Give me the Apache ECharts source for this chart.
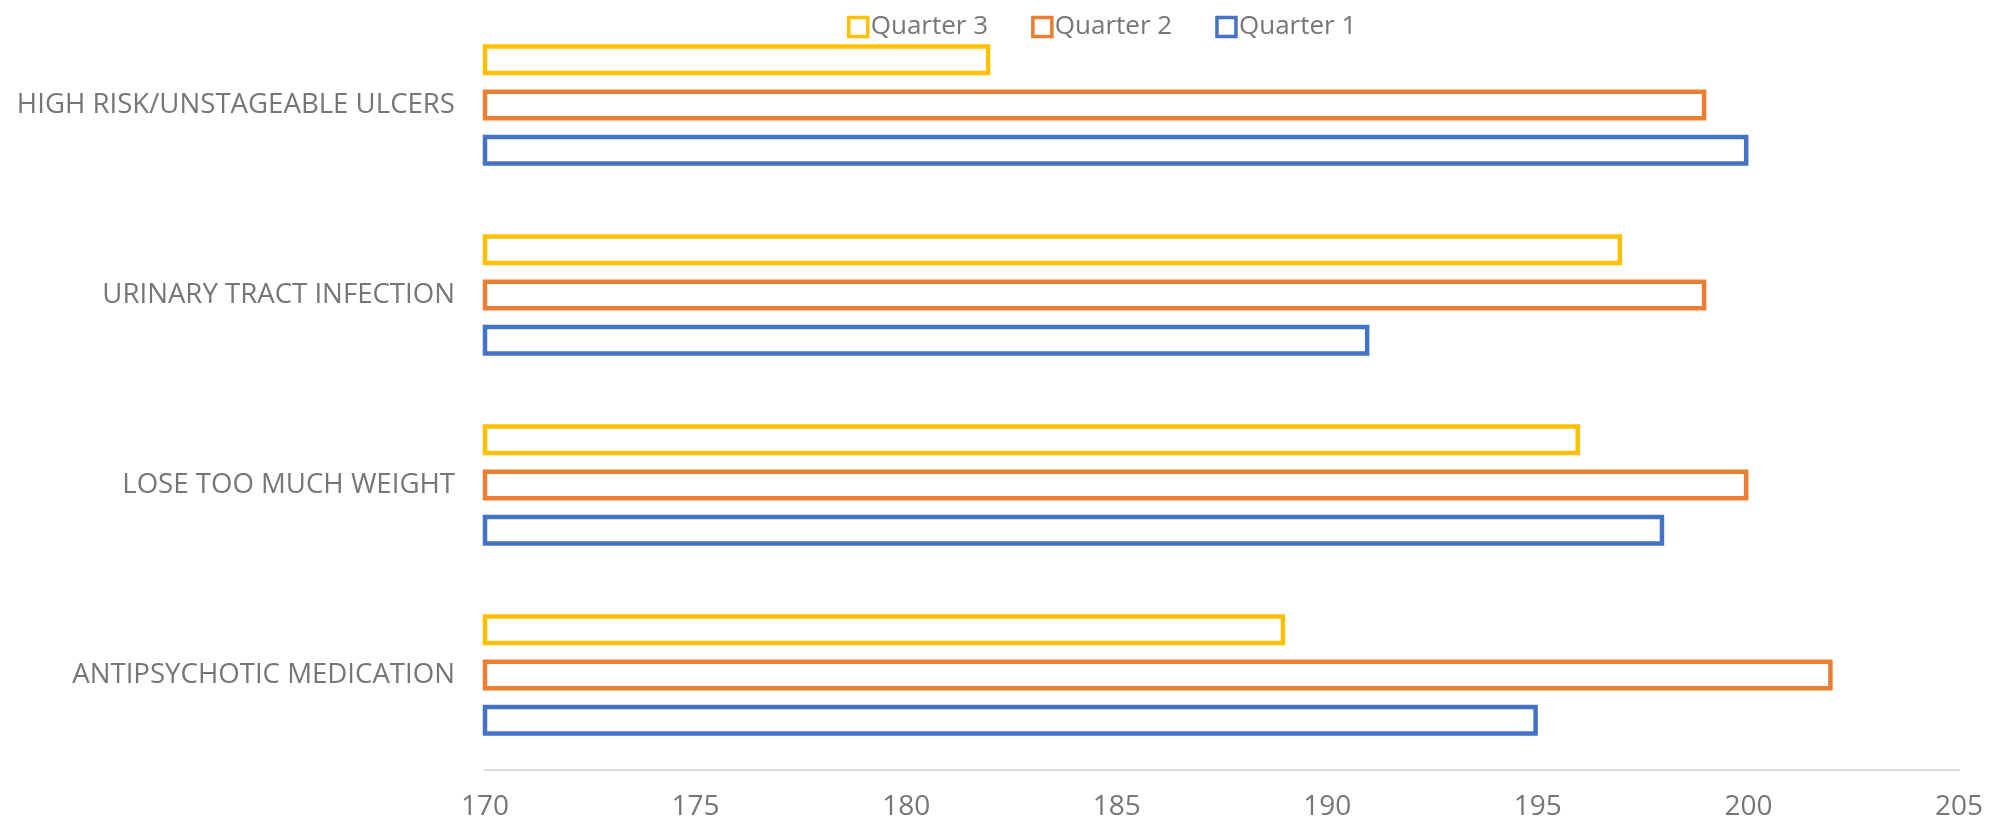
<!DOCTYPE html>
<html>
<head>
<meta charset="utf-8">
<script src="https://cdn.jsdelivr.net/npm/echarts@6/dist/echarts.min.js"></script>
<style>
  html, body { margin: 0; padding: 0; background: #fff; }
  #chart { width: 1991px; height: 824px; }
</style>
</head>
<body>
<div id="chart"></div>
<script>
// categories listed bottom to top (category axis starts at the bottom)
const categories = ['ANTIPSYCHOTIC MEDICATION', 'LOSE TOO MUCH WEIGHT', 'URINARY TRACT INFECTION', 'HIGH RISK/UNSTAGEABLE ULCERS'];
const quarter1 = [195, 198, 191, 200];
const quarter2 = [202, 200, 199, 199];
const quarter3 = [189, 196, 197, 182];
const seriesNames = ['Quarter 3', 'Quarter 2', 'Quarter 1'];
const colors = ['#FFC000', '#ED7D31', '#4472C4'];

const textColor = '#767676';
const font = '"Open Sans", sans-serif';

const chart = echarts.init(document.getElementById('chart'));

const makeSeries = (name, data, color) => ({
  name: name,
  type: 'bar',
  data: data,
  barWidth: 31,
  barGap: '46%',
  itemStyle: {
    color: '#ffffff',
    borderColor: color,
    borderWidth: 4.5
  },
  emphasis: { disabled: true }
});

const option = {
  animation: false,
  legend: {
    top: 9,
    left: 842,
    itemWidth: 19,
    itemHeight: 19,
    itemGap: 43,
    textStyle: { color: textColor, fontSize: 26, fontFamily: font, padding: [0, 0, 0, -2] },
    data: seriesNames.map((name, i) => ({
      name: name,
      icon: 'rect',
      itemStyle: { color: '#fff', borderColor: colors[i], borderWidth: 3.5 }
    }))
  },
  grid: {
    left: 485,
    right: 32,
    top: 10,
    bottom: 54
  },
  xAxis: {
    type: 'value',
    min: 170,
    max: 205,
    interval: 5,
    axisLine: { show: true, lineStyle: { color: '#d9d9d9', width: 2 } },
    axisTick: { show: false },
    splitLine: { show: false },
    axisLabel: { color: textColor, fontSize: 28, fontFamily: font, margin: 23 }
  },
  yAxis: {
    type: 'category',
    data: categories,
    axisLine: { show: false },
    axisTick: { show: false },
    axisLabel: { color: textColor, fontSize: 27.6, fontFamily: font, margin: 30 }
  },
  series: [
    makeSeries(seriesNames[0], quarter3, colors[0]),
    makeSeries(seriesNames[1], quarter2, colors[1]),
    makeSeries(seriesNames[2], quarter1, colors[2])
  ]
};

chart.setOption(option);
window.addEventListener('resize', () => chart.resize());
</script>
</body>
</html>
